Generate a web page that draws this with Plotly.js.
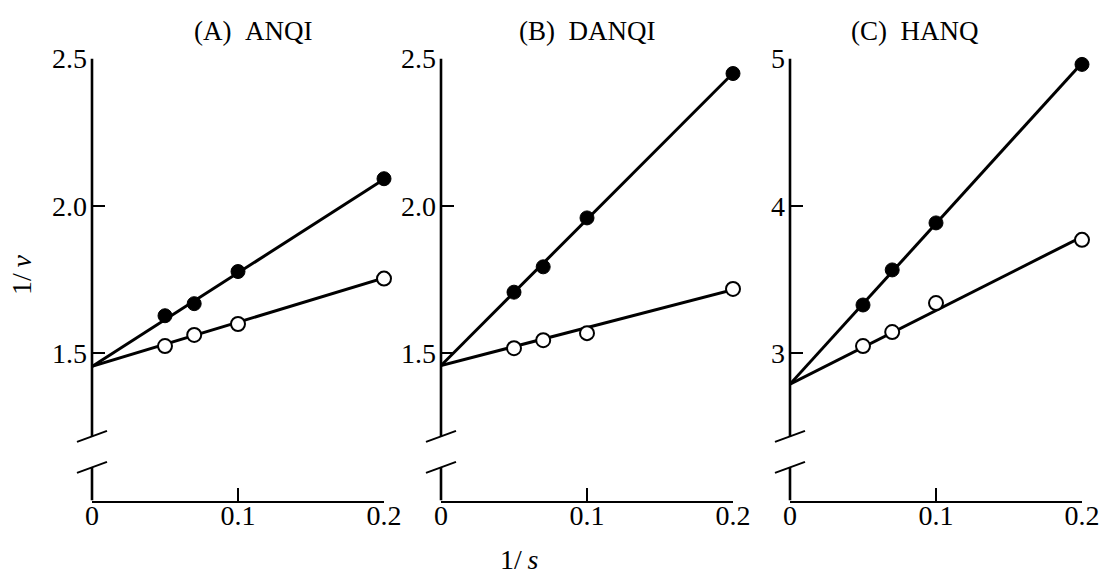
<!DOCTYPE html>
<html><head><meta charset="utf-8">
<script src="https://cdn.plot.ly/plotly-3.0.1.min.js"></script>
<style>html,body{margin:0;padding:0;background:#fff}#chart{width:1100px;height:574px}</style>
</head><body><div id="chart"></div>
<script>
// ---- data ----
const panelTitles = ["(A)\u2002ANQI", "(B)\u2002DANQI", "(C)\u2002HANQ"];
const invS = [0.05, 0.07, 0.1, 0.2];
const fitX = [0, 0.2];
const A_filled = [1.627, 1.668, 1.777, 2.092];
const A_open = [1.524, 1.562, 1.599, 1.753];
const A_fitFilled = [1.455, 2.09];
const A_fitOpen = [1.455, 1.755];
const B_filled = [1.707, 1.793, 1.959, 2.449];
const B_open = [1.517, 1.544, 1.568, 1.718];
const B_fitFilled = [1.458, 2.45];
const B_fitOpen = [1.458, 1.715];
const C_filled = [3.327, 3.565, 3.884, 4.96];
const C_open = [3.048, 3.143, 3.34, 3.769];
const C_fitFilled = [2.79, 4.97];
const C_fitOpen = [2.79, 3.79];
const xTickVals = [0, 0.1, 0.2];
const xTickText = ["0", "0.1", "0.2"];
const yTickValsAB = [1.5, 2.0, 2.5];
const yTickTextAB = ["1.5", "2.0", "2.5"];
const yTickValsC = [3, 4, 5];
const yTickTextC = ["3", "4", "5"];
const yRangeAB = [1.0, 2.5];
const yRangeC = [2, 5];
const xLabel = "1/\u2009<i>s</i>";
const yLabel = "1/\u2009<i>v</i>";

// ---- build ----
const FONT = "Liberation Serif, Times New Roman, serif";
const panels = [
  {f: A_filled, o: A_open, ff: A_fitFilled, fo: A_fitOpen, yr: yRangeAB, tv: yTickValsAB, tt: yTickTextAB},
  {f: B_filled, o: B_open, ff: B_fitFilled, fo: B_fitOpen, yr: yRangeAB, tv: yTickValsAB, tt: yTickTextAB},
  {f: C_filled, o: C_open, ff: C_fitFilled, fo: C_fitOpen, yr: yRangeC, tv: yTickValsC, tt: yTickTextC}
];
const xDomains = [[92/1100, 384/1100], [441/1100, 733/1100], [790/1100, 1082/1100]];
const yDomain = [1 - 500.5/574, 1 - 58.5/574];
const titleX = [253, 587, 915];

const traces = [];
const layout = {
  width: 1100, height: 574,
  margin: {l: 0, r: 0, t: 0, b: 0},
  paper_bgcolor: "#fff", plot_bgcolor: "#fff",
  showlegend: false,
  font: {family: FONT, color: "#000", size: 26},
  shapes: [], annotations: []
};

panels.forEach((p, i) => {
  const sx = i === 0 ? "" : String(i + 1);
  const xa = "x" + sx, ya = "y" + sx;
  const lineStyle = {color: "#000", width: 3};
  traces.push({x: fitX, y: p.ff, xaxis: xa, yaxis: ya, mode: "lines", line: lineStyle, hoverinfo: "skip"});
  traces.push({x: fitX, y: p.fo, xaxis: xa, yaxis: ya, mode: "lines", line: lineStyle, hoverinfo: "skip"});
  traces.push({x: invS, y: p.f, xaxis: xa, yaxis: ya, mode: "markers", cliponaxis: false,
    marker: {symbol: "circle", size: 14, color: "#000", line: {color: "#000", width: 1}}});
  traces.push({x: invS, y: p.o, xaxis: xa, yaxis: ya, mode: "markers", cliponaxis: false,
    marker: {symbol: "circle", size: 14, color: "#fff", line: {color: "#000", width: 2}}});

  layout["xaxis" + sx] = {
    domain: xDomains[i], anchor: ya, range: [0, 0.2], fixedrange: true,
    showgrid: false, zeroline: false, showline: true, linecolor: "#000", linewidth: 2.6,
    ticks: "inside", ticklen: 13, tickwidth: 2, tickcolor: "#000",
    tickmode: "array", tickvals: xTickVals, ticktext: xTickText, ticklabelstandoff: -12,
    tickfont: {family: FONT, size: 28, color: "#000"}
  };
  layout["yaxis" + sx] = {
    domain: yDomain, anchor: xa, range: p.yr, fixedrange: true,
    showgrid: false, zeroline: false, showline: false,
    ticks: "inside", ticklen: 13, tickwidth: 2, tickcolor: "#000",
    tickmode: "array", tickvals: p.tv, ticktext: p.tt, ticklabelstandoff: 4,
    tickfont: {family: FONT, size: 28, color: "#000"}
  };
  const lo = p.yr[0], hi = p.yr[1], span = hi - lo;
  const brLow = lo + 0.075 * span, brHigh = lo + 0.145 * span;
  const ax = xDomains[i][0];
  // y-axis line with break
  layout.shapes.push({type: "line", xref: "paper", yref: ya, x0: ax, x1: ax, y0: lo, y1: brLow, line: {color: "#000", width: 2.6}});
  layout.shapes.push({type: "line", xref: "paper", yref: ya, x0: ax, x1: ax, y0: brHigh, y1: hi, line: {color: "#000", width: 2.6}});
  [brLow, brHigh].forEach(b => {
    layout.shapes.push({type: "line", xref: "paper", yref: ya, xsizemode: "pixel", xanchor: ax,
      ysizemode: "pixel", yanchor: b, x0: -15, x1: 15, y0: -5.5, y1: 5.5, line: {color: "#000", width: 2}});
  });
  layout.annotations.push({xref: "paper", yref: "paper", x: titleX[i] / 1100, y: 1 - 31/574,
    xanchor: "center", yanchor: "middle", showarrow: false, text: panelTitles[i],
    font: {family: FONT, size: 27, color: "#000"}});
});
layout.annotations.push({xref: "paper", yref: "paper", x: 22/1100, y: 1 - 275/574, textangle: -90,
  xanchor: "center", yanchor: "middle", showarrow: false, text: yLabel, font: {family: FONT, size: 28, color: "#000"}});
layout.annotations.push({xref: "paper", yref: "paper", x: 519/1100, y: 1 - 559/574,
  xanchor: "center", yanchor: "middle", showarrow: false, text: xLabel, font: {family: FONT, size: 28, color: "#000"}});

Plotly.newPlot("chart", traces, layout, {staticPlot: true, displayModeBar: false});
</script></body></html>
